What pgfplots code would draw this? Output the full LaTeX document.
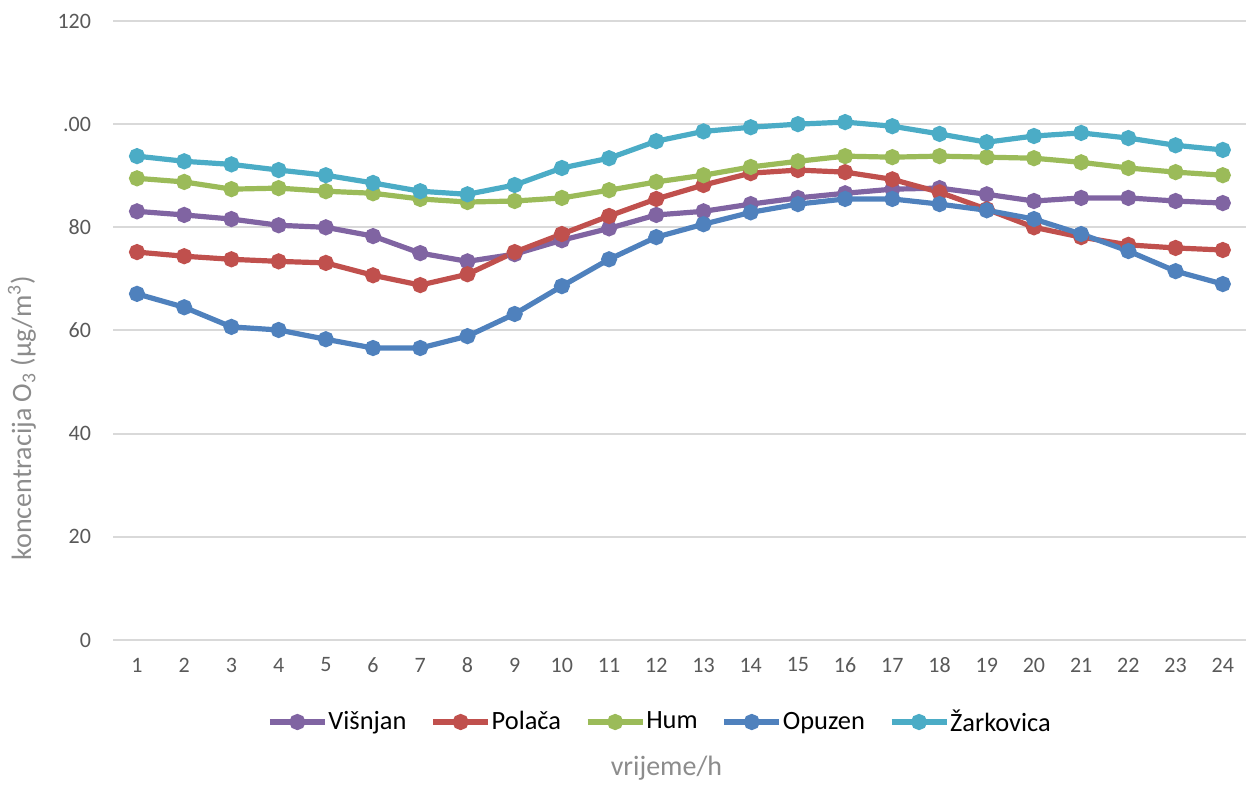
\documentclass[border=0pt]{standalone}
\usepackage{fontspec}
\setmainfont{Carlito}
\usepackage{pgfplots}
\pgfplotsset{compat=1.18}

\definecolor{cVis}{HTML}{8064A2}
\definecolor{cPol}{HTML}{C0504D}
\definecolor{cHum}{HTML}{9BBB59}
\definecolor{cOpu}{HTML}{4F81BD}
\definecolor{cZar}{HTML}{4BACC6}
\definecolor{gridc}{HTML}{D9D9D9}
\definecolor{tickc}{HTML}{595959}
\definecolor{titlec}{HTML}{8C8C8C}

\begin{document}
\begin{tikzpicture}[x=1pt,y=1pt]
\path (-56.7,-70.5) rectangle (567.3,320);
\begin{axis}[
  at={(0,0)}, anchor=south west,
  scale only axis, width=566.5pt, height=309.5pt,
  xmin=0.5, xmax=24.5, ymin=0, ymax=120,
  xtick={1,...,24},
  ytick={0,20,...,120},
  yticklabels={0,20,40,60,80,.00,120},
  axis line style={draw=none},
  major tick length=0pt,
  ymajorgrids,
  grid style={color=gridc, line width=1pt},
  ticklabel style={font=\fontsize{11}{13}\selectfont, text=tickc, inner sep=0pt},
  yticklabel style={anchor=east, xshift=-11pt},
  xticklabel style={anchor=center, yshift=-12.5pt},
  /pgf/number format/assume math mode=true,
  every axis plot/.append style={line width=2.6pt, mark=*, mark size=2.7pt},
  legend columns=5,
  legend style={draw=none, fill=none, at={(0.482,-0.1325)}, anchor=center,
    font=\fontsize{13.2}{15}\selectfont, text=black,
    nodes={inner sep=0.5pt},
    /tikz/every even column/.style={column sep=11.5pt},
    inner sep=0pt},
  legend image code/.code={
    \draw[#1, mark=none] (0pt,0pt) -- (27.5pt,0pt);
    \draw[#1, only marks] plot coordinates {(13.75pt,0pt)};
  },
]
\addplot[color=cVis] coordinates {
(1,83.1)(2,82.4)(3,81.6)(4,80.4)(5,80.0)(6,78.3)(7,75.0)(8,73.4)(9,74.8)(10,77.5)(11,79.8)(12,82.4)
(13,83.1)(14,84.5)(15,85.7)(16,86.6)(17,87.4)(18,87.6)(19,86.4)(20,85.1)(21,85.7)(22,85.7)(23,85.1)(24,84.7)};
\addlegendentry{Višnjan}
\addplot[color=cPol] coordinates {
(1,75.2)(2,74.4)(3,73.8)(4,73.4)(5,73.1)(6,70.7)(7,68.8)(8,70.9)(9,75.2)(10,78.7)(11,82.2)(12,85.5)
(13,88.2)(14,90.5)(15,91.1)(16,90.7)(17,89.3)(18,86.8)(19,83.5)(20,80.0)(21,78.1)(22,76.6)(23,76.0)(24,75.6)};
\addlegendentry{Polača}
\addplot[color=cHum] coordinates {
(1,89.5)(2,88.8)(3,87.4)(4,87.6)(5,87.0)(6,86.6)(7,85.5)(8,84.9)(9,85.1)(10,85.7)(11,87.2)(12,88.8)
(13,90.1)(14,91.7)(15,92.8)(16,93.8)(17,93.6)(18,93.8)(19,93.6)(20,93.4)(21,92.6)(22,91.5)(23,90.7)(24,90.1)};
\addlegendentry{Hum}
\addplot[color=cOpu] coordinates {
(1,67.1)(2,64.5)(3,60.7)(4,60.1)(5,58.3)(6,56.6)(7,56.6)(8,58.9)(9,63.2)(10,68.6)(11,73.8)(12,78.1)
(13,80.6)(14,82.9)(15,84.5)(16,85.5)(17,85.5)(18,84.5)(19,83.3)(20,81.6)(21,78.7)(22,75.4)(23,71.5)(24,69.0)};
\addlegendentry{Opuzen}
\addplot[color=cZar] coordinates {
(1,93.8)(2,92.8)(3,92.2)(4,91.1)(5,90.1)(6,88.6)(7,87.0)(8,86.4)(9,88.2)(10,91.5)(11,93.4)(12,96.7)
(13,98.6)(14,99.4)(15,100.0)(16,100.4)(17,99.6)(18,98.1)(19,96.5)(20,97.7)(21,98.3)(22,97.3)(23,95.9)(24,95.0)};
\addlegendentry{Žarkovica}
\end{axis}
\node[font=\fontsize{14}{16}\selectfont, text=titlec, rotate=90] at (-45.7,111) {koncentracija O\textsubscript{3} (µg/m\textsuperscript{3})};
\node[font=\fontsize{14}{16}\selectfont, text=titlec] at (276.5,-64) {vrijeme/h};
\end{tikzpicture}
\end{document}
